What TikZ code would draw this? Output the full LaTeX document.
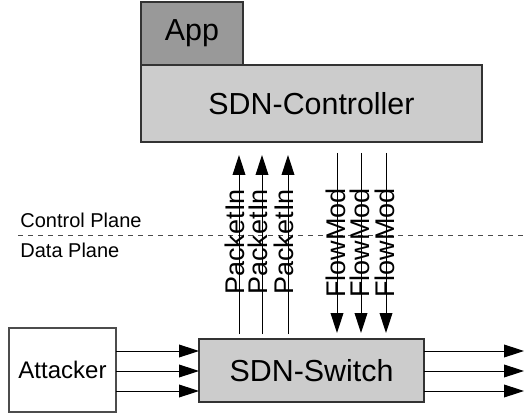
\documentclass[tikz,border=0pt]{standalone}
\usepackage{fontspec}
\setmainfont{Liberation Sans}
\usetikzlibrary{arrows.meta,positioning}
\tikzset{block/.style={rectangle,draw=black!80,line width=0.6pt,inner sep=0pt,
outer sep=0pt, font=\fontsize{15.2}{16}\selectfont},
app/.style={block,fill=black!40},
sdn/.style={block,fill=black!20},
host/.style={block,fill=white,draw=black!70,font=\fontsize{12}{13}\selectfont},
msg/.style={rotate=90,inner sep=0pt,font=\fontsize{13.5}{14}\selectfont},
plane/.style={anchor=west,inner sep=0pt,font=\fontsize{10}{11}\selectfont},
flow/.style={->,line width=0.5pt},
border/.style={dash pattern=on 2.5pt off 2.5pt,line width=0.5pt,draw=black!70},
>={Triangle[length=10pt,width=6.4pt]}}

\begin{document}
\begin{tikzpicture}[x=0.5pt,y=0.5pt]
  \useasboundingbox (0,0) rectangle (524,418);

  \node (ctrl) [sdn,minimum width=170.5pt,minimum height=38.5pt] at (311.5,314.5) {SDN-Controller};
  \node (app) [app,minimum width=51pt,minimum height=31.5pt] at (192,384.5) {App};
  \node (switch) [sdn,minimum width=112.5pt,minimum height=31.5pt] at (311.5,47.5) {SDN-Switch};
  \node (attacker) [host,minimum width=53.5pt,minimum height=42pt] at (62.5,48) {Attacker};

  % control / data plane
  \coordinate (cpl) at (18,183);
  \coordinate (cpr) at (524,183);
  \draw [border] (cpl) -- (cpr);
  \node (cp) [plane] at (20,198) {Control Plane};
  \node (dp) [plane] at (20,168) {Data Plane};

  % switch -> controller
  \foreach \x/\n in {239/1,262/2,288/3} {
    \coordinate (pin\n) at (\x,84);
    \coordinate (pout\n) at (\x,263);
    \draw [flow] (pin\n) -- (pout\n);
    \node (pkt\n) [msg] at (\x-4,176) {PacketIn};
  }
  % controller -> switch
  \foreach \x/\n in {337/1,361/2,386/3} {
    \coordinate (fin\n) at (\x,265);
    \coordinate (fout\n) at (\x,85);
    \draw [flow] (fin\n) -- (fout\n);
    \node (fm\n) [msg] at (\x-1,175) {FlowMod};
  }

  % traffic
  \foreach \y/\n in {67/1,47/2,27/3} {
    \coordinate (row\n) at (0,\y);
    \coordinate (out\n) at (524,\y);
    \draw [flow] (attacker.east |- row\n) -- (switch.west |- row\n);
    \draw [flow] (switch.east |- row\n) -- (out\n);
  }
\end{tikzpicture}
\end{document}
